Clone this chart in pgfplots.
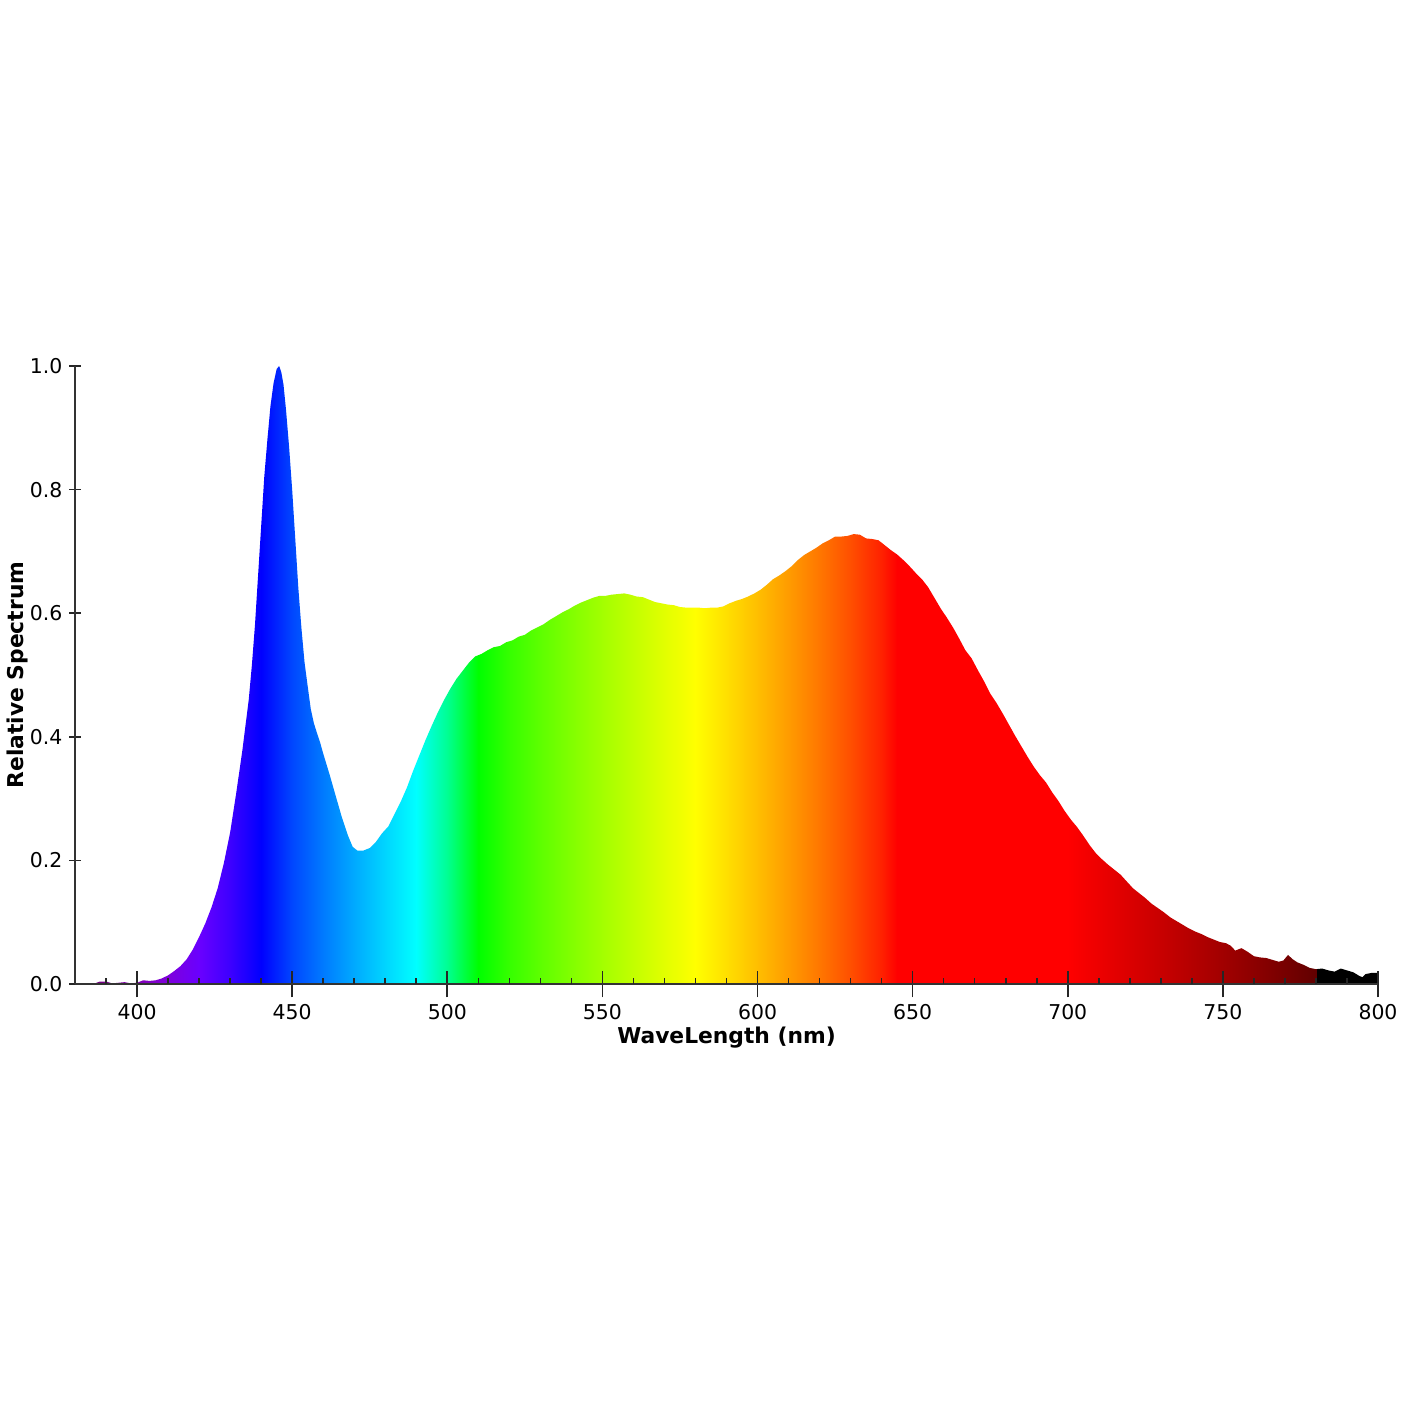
\documentclass[border=0pt]{standalone}
\usepackage{fontspec}
\setmainfont{DejaVu Sans}
\usepackage{pgfplots}
\pgfplotsset{compat=1.18}
\pgfdeclarehorizontalshading{spectrum}{100bp}{%
rgb(0bp)=(0.380,0,0.380);
rgb(25bp)=(0.380,0,0.380);
rgb(26.190bp)=(0.475,0,0.551);
rgb(27.381bp)=(0.510,0,0.710);
rgb(28.571bp)=(0.494,0,0.859);
rgb(29.762bp)=(0.415,0,1);
rgb(30.952bp)=(0.239,0,1);
rgb(32.143bp)=(0,0,1);
rgb(33.333bp)=(0,0.276,1);
rgb(34.524bp)=(0,0.480,1);
rgb(35.714bp)=(0,0.665,1);
rgb(36.905bp)=(0,0.836,1);
rgb(38.095bp)=(0,1,1);
rgb(39.286bp)=(0,1,0.574);
rgb(40.476bp)=(0,1,0);
rgb(41.667bp)=(0.211,1,0);
rgb(42.857bp)=(0.367,1,0);
rgb(44.048bp)=(0.508,1,0);
rgb(45.238bp)=(0.639,1,0);
rgb(46.429bp)=(0.764,1,0);
rgb(47.619bp)=(0.884,1,0);
rgb(48.810bp)=(1,1,0);
rgb(50.000bp)=(1,0.875,0);
rgb(51.190bp)=(1,0.745,0);
rgb(52.381bp)=(1,0.609,0);
rgb(53.571bp)=(1,0.465,0);
rgb(54.762bp)=(1,0.309,0);
rgb(55.952bp)=(1,0.128,0);
rgb(56.548bp)=(1,0,0);
rgb(63.095bp)=(1,0,0);
rgb(64.286bp)=(0.929,0,0);
rgb(65.476bp)=(0.857,0,0);
rgb(66.667bp)=(0.784,0,0);
rgb(67.857bp)=(0.708,0,0);
rgb(69.048bp)=(0.631,0,0);
rgb(70.238bp)=(0.551,0,0);
rgb(71.429bp)=(0.468,0,0);
rgb(72.619bp)=(0.382,0,0);
rgb(72.645bp)=(0,0,0);
rgb(100bp)=(0,0,0)}
\pgfplotstableread{
lambda v
380 0
386 0
388 0.004
390 0.004
392 0.001
394 0.002
396 0.003
398 0.001
400 0.002
402 0.006
404 0.005
406 0.006
408 0.009
410 0.014
412 0.021
414 0.029
416 0.040
418 0.056
420 0.076
422 0.098
424 0.124
426 0.155
428 0.196
430 0.245
432 0.310
434 0.380
436 0.460
437 0.515
438 0.580
439 0.660
440 0.740
441 0.820
442 0.880
443 0.935
444 0.972
445 0.995
445.8 1.000
446.5 0.990
447.2 0.970
448 0.930
449 0.870
450 0.800
451 0.720
452 0.640
453 0.575
454 0.520
455 0.482
456 0.445
457 0.422
458 0.406
459 0.391
460 0.373
462 0.340
464 0.305
466 0.270
468 0.240
469.5 0.222
471 0.216
473 0.216
475 0.220
477 0.230
479 0.244
481 0.255
483 0.275
485 0.295
487 0.318
489 0.345
491 0.370
493 0.395
495 0.418
497 0.440
499 0.460
501 0.478
503 0.494
505 0.507
507 0.520
509 0.530
511 0.534
513 0.540
515 0.545
517 0.547
519 0.553
521 0.556
523 0.562
525 0.565
527 0.572
529 0.577
531 0.582
533 0.589
535 0.595
537 0.601
539 0.606
541 0.612
543 0.617
545 0.621
547 0.625
549 0.628
551 0.628
553 0.630
555 0.631
557 0.632
559 0.630
561 0.627
563 0.626
565 0.622
567 0.618
569 0.616
571 0.614
573 0.613
575 0.610
577 0.609
579 0.609
581 0.609
583 0.608
585 0.609
587 0.609
589 0.611
591 0.616
593 0.620
595 0.623
597 0.627
599 0.632
601 0.638
603 0.646
605 0.655
607 0.661
609 0.668
611 0.676
613 0.686
615 0.694
617 0.700
619 0.706
621 0.713
623 0.718
625 0.724
627 0.724
629 0.725
631 0.728
633 0.727
635 0.721
637 0.720
639 0.718
641 0.710
643 0.702
645 0.695
647 0.686
649 0.676
651 0.665
653 0.655
655 0.642
657 0.625
659 0.608
661 0.593
663 0.577
665 0.559
667 0.540
669 0.527
671 0.508
673 0.490
675 0.470
677 0.455
679 0.438
681 0.420
683 0.402
685 0.385
687 0.368
689 0.352
691 0.338
693 0.326
695 0.310
697 0.296
699 0.280
701 0.266
703 0.254
705 0.240
707 0.225
709 0.212
711 0.202
713 0.193
715 0.185
717 0.177
719 0.166
721 0.155
723 0.147
725 0.139
727 0.130
729 0.123
731 0.116
733 0.108
735 0.102
737 0.096
739 0.090
741 0.085
743 0.081
745 0.076
747 0.072
749 0.068
751 0.066
752.5 0.062
754 0.054
756 0.058
758 0.052
760 0.045
762 0.043
764 0.042
766 0.039
768 0.036
769.5 0.038
771 0.047
772.5 0.040
774 0.035
776 0.031
778 0.026
780 0.024
782 0.025
784 0.022
786 0.020
788 0.025
790 0.022
792 0.019
794 0.013
795 0.011
796 0.016
798 0.018
800 0.018
}\spectrum
\begin{document}
\begin{tikzpicture}
\useasboundingbox (0,0) rectangle (710pt,710pt);
\begin{axis}[
  at={(37.5pt,218pt)}, anchor=south west,
  scale only axis, width=651.5pt, height=309pt,
  xmin=380, xmax=800, ymin=0, ymax=1,
  axis on top,
  axis x line*=bottom, axis y line*=left,
  axis line style={draw=black!80, line width=0.9pt},
  tick align=center,
  major tick length=13.3pt,
  xtick={400,450,500,550,600,650,700,750,800},
  ytick={0,0.2,0.4,0.6,0.8,1},
  xtick style={line width=0.8pt, draw=black!85},
  ytick style={/pgfplots/major tick length=5.7pt, line width=0.8pt, draw=black!85},
  extra x ticks={390,410,420,430,440,460,470,480,490,510,520,530,540,560,570,580,590,610,620,630,640,660,670,680,690,710,720,730,740,760,770,780,790},
  extra x tick labels={},
  extra x tick style={tick align=inside, /pgfplots/major tick length=2.85pt, line width=0.8pt, draw=black!85},
  /pgf/number format/assume math mode=true,
  tick label style={font=\fontsize{10.2}{12}\selectfont, black},
  yticklabel style={xshift=3.8pt, /pgf/number format/.cd, fixed, fixed zerofill, precision=1},
  xlabel={WaveLength (nm)},
  ylabel={Relative Spectrum},
  label style={font=\fontsize{10.9}{13}\selectfont\bfseries},
  xlabel style={at={(axis description cs:0.5,-0.0874)}, anchor=center},
  ylabel style={at={(axis description cs:-0.0445,0.5)}, anchor=center, rotate=0},
  clip=false,
]
\addplot[draw=none, shade, shading=spectrum, shading angle=0] table[x=lambda, y=v] {\spectrum} \closedcycle;
\end{axis}
\end{tikzpicture}
\end{document}
